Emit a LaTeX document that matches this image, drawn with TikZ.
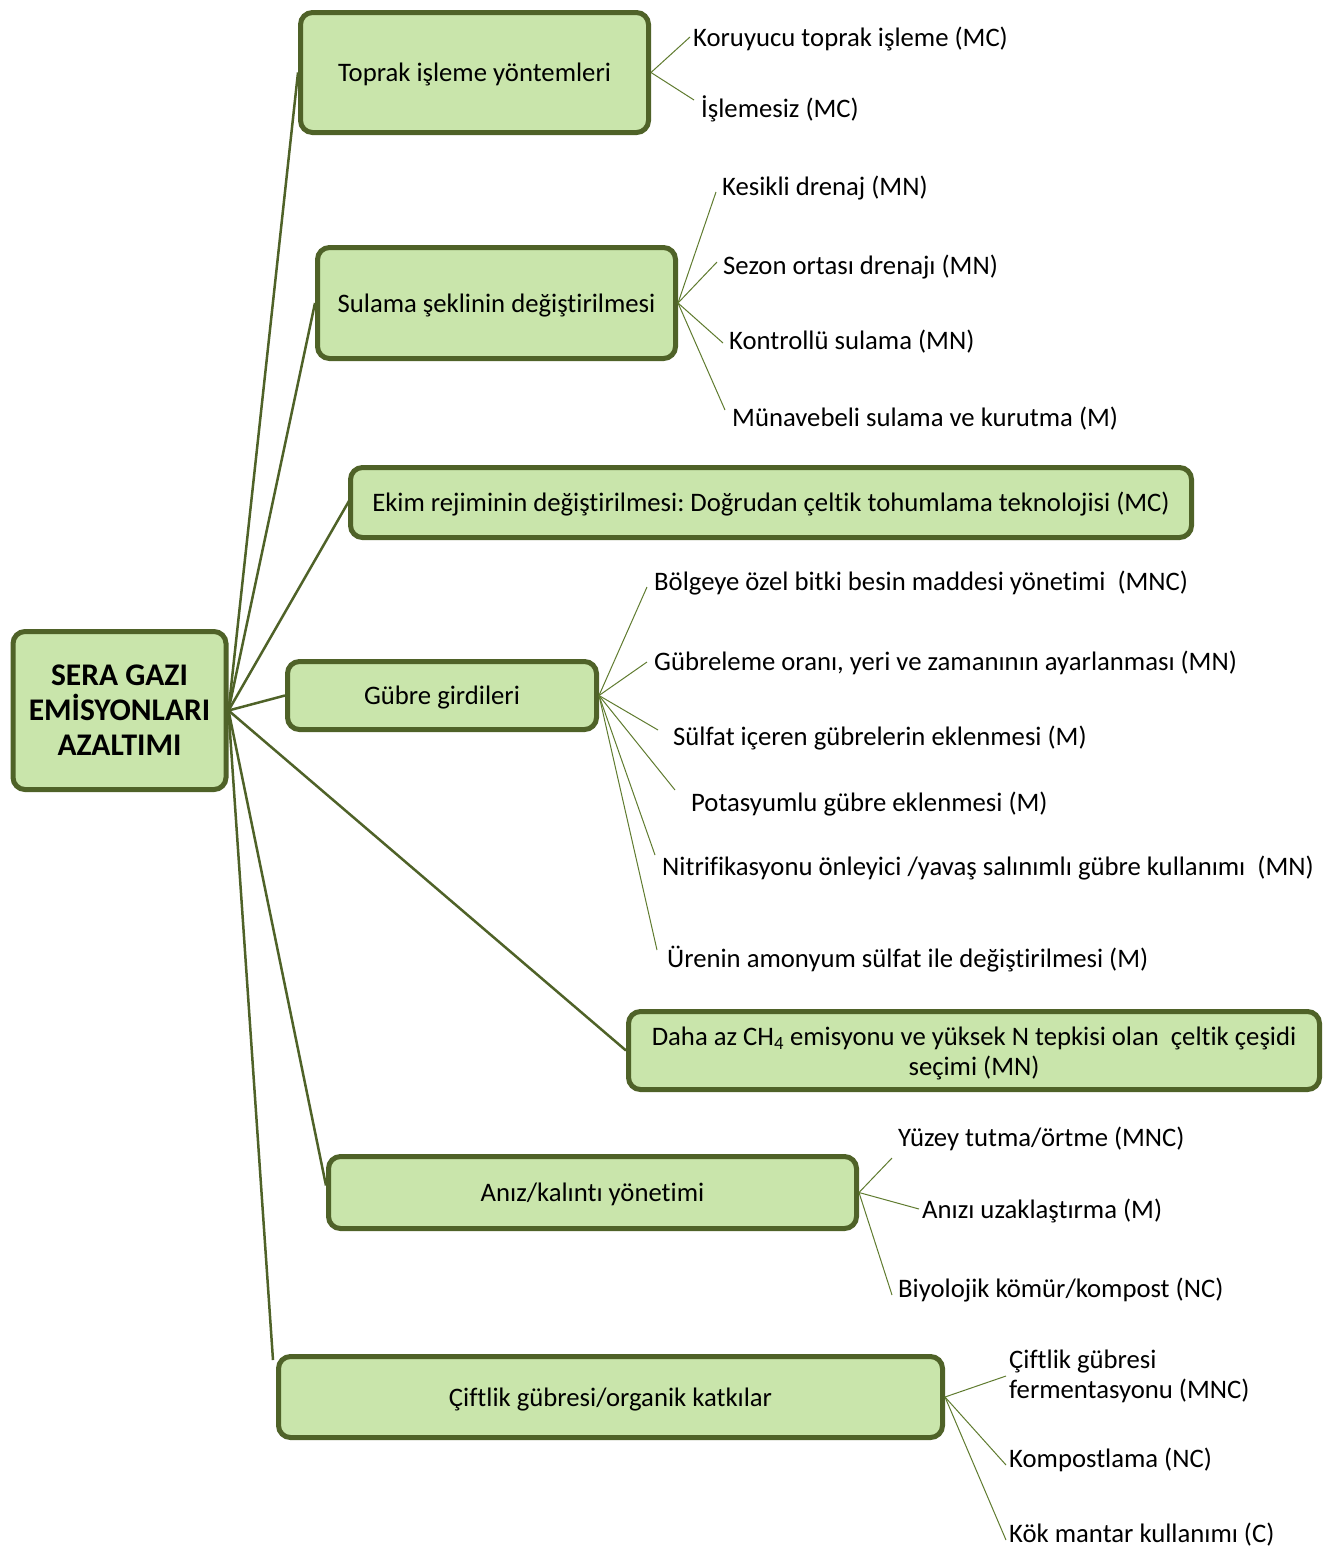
\documentclass[tikz,border=0pt]{standalone}
\usepackage{fontspec}
\setmainfont{Carlito}[Ligatures=NoCommon]
\usetikzlibrary{calc}
\frenchspacing
\definecolor{olivedark}{HTML}{4F6228}
\definecolor{boxfill}{HTML}{C9E5AB}
\definecolor{thinline}{HTML}{5F7B2F}
\newcommand{\lbl}{\fontsize{26.7}{30}\selectfont}
\newcommand{\ctr}{\fontsize{31.5}{35}\selectfont\bfseries}
\begin{document}
\begin{tikzpicture}[x=1pt,y=-1pt,
  box/.style={draw=olivedark, line width=5pt, fill=boxfill, rounded corners=12pt, align=center, inner sep=0pt, font=\lbl},
  onebox/.style={box, text height=23pt, text depth=5pt},
  mainline/.style={draw=olivedark, line width=2.5pt},
  subline/.style={draw=thinline, line width=1pt},
  leaf/.style={anchor=west, inner sep=0pt, inner xsep=3pt, font=\lbl, align=left, text height=23pt, text depth=5pt}]
\useasboundingbox (0,0) rectangle (1335,1548);

% boxes
\node[box, font=\ctr, minimum width=213pt, minimum height=158pt] (c) at (119.5,710.5) {SERA GAZI\\EMİSYONLARI\\AZALTIMI};
\node[onebox, minimum width=348pt, minimum height=120pt] (tp) at (474.5,72.5) {Toprak işleme yöntemleri};
\node[onebox, minimum width=358pt, minimum height=111pt] (su) at (496.5,303) {Sulama şeklinin değiştirilmesi};
\node[onebox, minimum width=841pt, minimum height=70pt] (ek) at (771,502.5) {Ekim rejiminin değiştirilmesi: Doğrudan çeltik tohumlama teknolojisi (MC)};
\node[onebox, minimum width=309pt, minimum height=68pt] (gu) at (442,695.5) {Gübre girdileri};
\node[box, minimum width=691pt, minimum height=78pt] (da) at (974,1050.5) {\rule{0pt}{25pt}Daha az CH\textsubscript{4} emisyonu ve yüksek N tepkisi olan\ \ çeltik çeşidi\\seçimi (MN)};
\node[onebox, minimum width=528pt, minimum height=72pt] (an) at (592.5,1192.5) {Anız/kalıntı yönetimi};
\node[onebox, minimum width=664pt, minimum height=81pt] (cf) at (610.5,1397) {Çiftlik gübresi/organik katkılar};

% main connectors
\draw[mainline] (c.east) -- (tp.west);
\draw[mainline] (c.east) -- (su.west);
\draw[mainline] (c.east) -- ($(ek.west)+(3,-5)$);
\draw[mainline] (c.east) -- (gu.west);
\draw[mainline] (c.east) -- (da.west);
\draw[mainline] (c.east) -- ($(an.west)+(0,-7)$);
\draw[mainline] (c.east) -- ($(cf.north west)+(-3,6)$);

% leaves
\node[leaf] (tp1) at (690,37) {Koruyucu toprak işleme (MC)};
\node[leaf] (tp2) at (698,108) {İşlemesiz (MC)};

\node[leaf] (su1) at (719,186) {Kesikli drenaj (MN)};
\node[leaf] (su2) at (720,265) {Sezon ortası drenajı (MN)};
\node[leaf] (su3) at (726,340) {Kontrollü sulama (MN)};
\node[leaf] (su4) at (729,417) {Münavebeli sulama ve kurutma (M)};

\node[leaf] (gu1) at (651,581) {Bölgeye özel bitki besin maddesi yönetimi\ \ (MNC)};
\node[leaf] (gu2) at (651,661) {Gübreleme oranı, yeri ve zamanının ayarlanması (MN)};
\node[leaf] (gu3) at (670,736) {Sülfat içeren gübrelerin eklenmesi (M)};
\node[leaf] (gu4) at (688,802) {Potasyumlu gübre eklenmesi (M)};
\node[leaf] (gu5) at (659,866) {Nitrifikasyonu önleyici /yavaş salınımlı gübre kullanımı\ \ (MN)};
\node[leaf] (gu6) at (664,958) {Ürenin amonyum sülfat ile değiştirilmesi (M)};

\node[leaf] (an1) at (895,1137) {Yüzey tutma/örtme (MNC)};
\node[leaf] (an2) at (919,1209) {Anızı uzaklaştırma (M)};
\node[leaf] (an3) at (895,1288) {Biyolojik kömür/kompost (NC)};

\node[anchor=west, inner sep=0pt, inner xsep=3pt, font=\lbl, align=left] (cf1) at (1006,1376) {Çiftlik gübresi\\fermentasyonu (MNC)};
\node[leaf] (cf2) at (1006,1458) {Kompostlama (NC)};
\node[leaf] (cf3) at (1006,1533) {Kök mantar kullanımı (C)};

% sub connectors
\draw[subline] (tp.east) -- (tp1.west);
\draw[subline] (tp.east) -- ($(tp2.west)+(-4,-8)$);
\draw[subline] (su.east) -- ($(su1.west)+(-3,6)$);
\draw[subline] (su.east) -- ($(su2.west)+(-3,-3)$);
\draw[subline] (su.east) -- ($(su3.west)+(-3,3)$);
\draw[subline] (su.east) -- ($(su4.west)+(-4,-7)$);
\draw[subline] (gu.east) -- ($(gu1.west)+(-4,6)$);
\draw[subline] (gu.east) -- ($(gu2.west)+(-4,1)$);
\draw[subline] (gu.east) -- ($(gu3.west)+(-12,-6)$);
\draw[subline] (gu.east) -- ($(gu4.west)+(-13,-12)$);
\draw[subline] (gu.east) -- ($(gu5.west)+(-4,-11)$);
\draw[subline] (gu.east) -- ($(gu6.west)+(-7,-8)$);
\draw[subline] (an.east) -- ($(an1.west)+(-3,21)$);
\draw[subline] (an.east) -- (an2.west);
\draw[subline] (an.east) -- ($(an3.west)+(-3,7)$);
\draw[subline] (cf.east) -- (cf1.west);
\draw[subline] (cf.east) -- ($(cf2.west)+(0,7)$);
\draw[subline] (cf.east) -- ($(cf3.west)+(0,7)$);
\end{tikzpicture}
\end{document}
